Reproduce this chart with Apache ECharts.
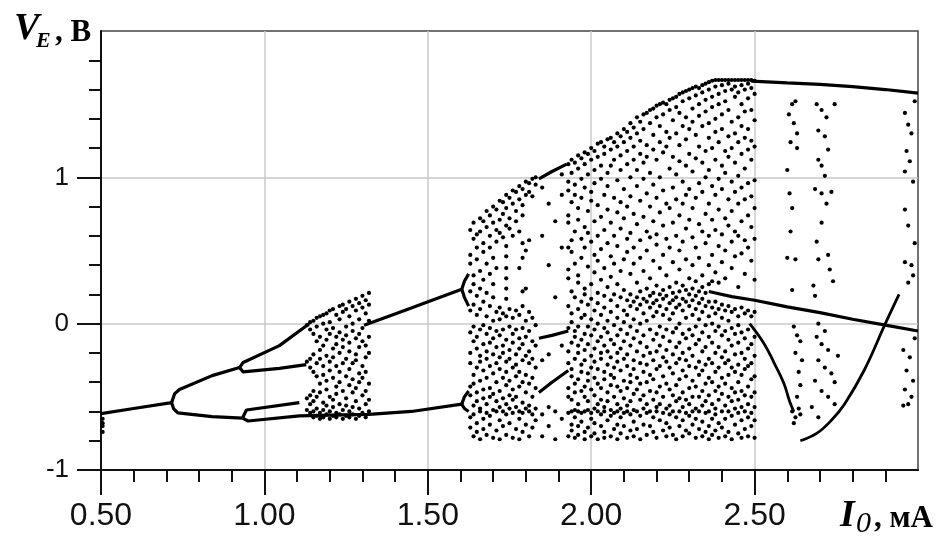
<!DOCTYPE html>
<html><head><meta charset="utf-8">
<script src="https://cdn.jsdelivr.net/npm/echarts@6/dist/echarts.min.js"></script>
<style>html,body{margin:0;padding:0;background:#fff}#c{width:948px;height:544px}</style>
</head><body><div id="c"></div>
<script>
// ---- tick labels ----
const xTicks = [0.5, 1.0, 1.5, 2.0, 2.5];
const yTicks = [-1, 0, 1];

// ---- stable branches ----
const branchP1 = [[0.5,-0.615],[0.6,-0.58],[0.716,-0.54]];
const branchP2up = [[0.716,-0.54],[0.725,-0.48],[0.74,-0.45],[0.84,-0.355],[0.924,-0.30]];
const branchP2low = [[0.716,-0.54],[0.722,-0.58],[0.735,-0.61],[0.84,-0.635],[0.933,-0.645]];
const branchP4a = [[0.924,-0.30],[0.935,-0.265],[1.046,-0.15],[1.137,0.0]];
const branchP4b = [[0.924,-0.30],[0.935,-0.33],[1.046,-0.305],[1.128,-0.28]];
const branchP4c = [[0.933,-0.645],[0.945,-0.59],[1.107,-0.54]];
const branchP4d = [[0.933,-0.645],[0.95,-0.665],[1.107,-0.63],[1.2,-0.625],[1.32,-0.62],[1.45,-0.6],[1.604,-0.55]];
const winUpper = [[1.305,-0.01],[1.41,0.075],[1.604,0.235]];
const winUpperArmA = [[1.604,0.235],[1.612,0.29],[1.625,0.34]];
const winUpperArmB = [[1.604,0.235],[1.612,0.18],[1.625,0.12]];
const winLowerArmA = [[1.604,-0.55],[1.612,-0.5],[1.625,-0.46]];
const winLowerArmB = [[1.604,-0.55],[1.612,-0.58],[1.625,-0.6]];
const p3Top = [[1.84,0.99],[1.88,1.04],[1.925,1.09]];
const p3Mid = [[1.84,-0.10],[1.88,-0.08],[1.93,-0.05]];
const p3Low = [[1.84,-0.47],[1.88,-0.4],[1.93,-0.32]];
const topRight = [[2.49,1.658],[2.6,1.645],[2.7,1.635],[2.8,1.62],[2.9,1.6],[3.0,1.575]];
const midRight = [[2.36,0.22],[2.43,0.185],[2.5,0.16],[2.6,0.115],[2.7,0.075],[2.8,0.03],[2.9,-0.01],[3.0,-0.05]];
const descCurve = [[2.485,0.0],[2.53,-0.14],[2.56,-0.27],[2.59,-0.41],[2.607,-0.53],[2.62,-0.6]];
const riseCurve = [[2.64,-0.8],[2.69,-0.75],[2.735,-0.66],[2.775,-0.55],[2.835,-0.32],[2.9,0.0],[2.942,0.2]];

// ---- chaotic points: [x, [y values]] columns ----
const transient = [[0.505,[-0.65,-0.68,-0.7,-0.74]]];
const chaosA = [
 [1.13,[-0.01,-0.26,-0.51,-0.59]],
 [1.14,[0.01,-0.04,-0.24,-0.3,-0.49,-0.55,-0.61]],
 [1.15,[0.02,-0.07,-0.21,-0.33,-0.46,-0.53,-0.6,-0.64]],
 [1.16,[0.04,-0.02,-0.12,-0.27,-0.36,-0.5,-0.58,-0.63]],
 [1.17,[0.05,-0.09,-0.18,-0.24,-0.41,-0.47,-0.61,-0.65]],
 [1.18,[0.06,0.0,-0.15,-0.29,-0.35,-0.54,-0.59,-0.64]],
 [1.19,[0.07,-0.04,-0.11,-0.22,-0.39,-0.45,-0.56,-0.62]],
 [1.20,[0.09,0.01,-0.07,-0.26,-0.32,-0.5,-0.6,-0.65]],
 [1.21,[0.1,-0.03,-0.17,-0.23,-0.37,-0.52,-0.57,-0.63]],
 [1.22,[0.06,-0.09,-0.14,-0.29,-0.43,-0.48,-0.61,-0.64]],
 [1.23,[0.12,0.03,-0.06,-0.2,-0.33,-0.4,-0.55,-0.62]],
 [1.24,[0.13,0.08,-0.11,-0.16,-0.27,-0.46,-0.59,-0.65]],
 [1.25,[0.1,-0.02,-0.08,-0.24,-0.36,-0.51,-0.56,-0.63]],
 [1.26,[0.15,0.05,-0.13,-0.19,-0.31,-0.42,-0.6,-0.64]],
 [1.27,[0.12,0.0,-0.05,-0.27,-0.38,-0.47,-0.57,-0.62]],
 [1.28,[0.17,0.09,-0.1,-0.21,-0.25,-0.44,-0.53,-0.65]],
 [1.29,[0.14,0.03,-0.07,-0.16,-0.34,-0.4,-0.58,-0.63]],
 [1.30,[0.19,0.11,-0.03,-0.12,-0.29,-0.37,-0.49,-0.61]],
 [1.31,[0.16,0.07,-0.15,-0.23,-0.33,-0.46,-0.55,-0.64]],
 [1.32,[0.21,0.13,0.02,-0.09,-0.2,-0.41,-0.52,-0.6]]
];
const chaosB = [
 [1.63,[0.64,0.47,0.41,0.22,0.09,-0.06,-0.2,-0.27,-0.43,-0.49,-0.64,-0.71]],
 [1.64,[0.69,0.58,0.33,0.27,0.13,-0.02,-0.12,-0.35,-0.41,-0.56,-0.62,-0.77]],
 [1.65,[0.61,0.52,0.44,0.19,0.06,-0.09,-0.17,-0.3,-0.47,-0.53,-0.68,-0.74]],
 [1.66,[0.72,0.63,0.36,0.24,0.1,-0.04,-0.22,-0.26,-0.39,-0.58,-0.6,-0.79]],
 [1.67,[0.7,0.55,0.49,0.3,0.15,-0.01,-0.14,-0.32,-0.45,-0.51,-0.65,-0.72]],
 [1.68,[0.77,0.66,0.41,0.21,0.05,-0.07,-0.19,-0.24,-0.37,-0.55,-0.61,-0.76]],
 [1.69,[0.74,0.6,0.52,0.34,0.12,-0.03,-0.13,-0.29,-0.44,-0.5,-0.63,-0.69]],
 [1.70,[0.8,0.69,0.45,0.27,0.18,0.02,-0.1,-0.21,-0.34,-0.48,-0.59,-0.78]],
 [1.71,[0.78,0.64,0.56,0.38,0.08,-0.05,-0.16,-0.27,-0.4,-0.53,-0.6,-0.73]],
 [1.72,[0.84,0.71,0.62,0.11,0.03,-0.08,-0.23,-0.31,-0.46,-0.57,-0.66,-0.79]],
 [1.73,[0.83,0.75,0.59,0.07,-0.04,-0.15,-0.2,-0.37,-0.51,-0.6,-0.7]],
 [1.74,[0.88,0.79,0.67,0.53,0.46,0.38,0.31,0.24,0.17,0.05,-0.11,-0.26,-0.33,-0.42,-0.55,-0.62,-0.76]],
 [1.75,[0.86,0.72,0.65,0.1,-0.02,-0.18,-0.24,-0.39,-0.49,-0.58,-0.68]],
 [1.76,[0.91,0.82,0.6,0.04,-0.07,-0.13,-0.3,-0.45,-0.52,-0.61,-0.78]],
 [1.77,[0.9,0.77,0.7,0.09,-0.04,-0.21,-0.28,-0.36,-0.5,-0.57,-0.72]],
 [1.78,[0.94,0.85,0.63,0.38,0.06,-0.1,-0.17,-0.33,-0.43,-0.6,-0.65,-0.79]],
 [1.79,[0.92,0.81,0.74,0.55,0.45,0.22,0.12,-0.03,-0.14,-0.25,-0.4,-0.54,-0.61,-0.74]],
 [1.80,[0.97,0.88,0.5,0.24,0.02,-0.09,-0.22,-0.35,-0.47,-0.58,-0.69]],
 [1.81,[0.96,0.9,0.57,0.08,-0.05,-0.19,-0.27,-0.41,-0.56,-0.6,-0.77]],
 [1.82,[0.99,0.87,0.04,-0.12,-0.24,-0.37,-0.5,-0.62,-0.71]],
 [1.83,[1.0,0.95,-0.01,-0.15,-0.3,-0.44,-0.58,-0.66]],
 [1.85,[0.93,0.6,-0.25,-0.62,-0.77]],
 [1.87,[0.82,0.4,-0.21,-0.57,-0.7]],
 [1.89,[0.7,0.18,-0.6,-0.79]],
 [1.91,[1.02,0.88,0.52,-0.15,-0.65]]
];
const chaosC = [
 [1.93,[1.09,0.97,0.91,0.74,0.69,0.52,0.37,0.31,0.12,-0.03,-0.19,-0.27,-0.44,-0.5,-0.61,-0.77]],
 [1.94,[1.12,1.03,0.83,0.57,0.49,0.22,0.07,0.01,-0.13,-0.31,-0.36,-0.52,-0.6,-0.69,-0.73]],
 [1.95,[1.1,0.95,0.88,0.63,0.41,0.18,-0.05,-0.09,-0.24,-0.41,-0.47,-0.59,-0.64,-0.78]],
 [1.96,[1.15,1.06,0.79,0.71,0.33,0.28,0.1,-0.02,-0.15,-0.2,-0.38,-0.55,-0.6,-0.7,-0.76]],
 [1.97,[1.13,0.99,0.86,0.58,0.45,0.15,0.04,-0.11,-0.28,-0.33,-0.46,-0.61,-0.67]],
 [1.98,[1.17,1.09,0.93,0.66,0.52,0.24,0.2,0.06,-0.07,-0.18,-0.25,-0.43,-0.5,-0.6,-0.74,-0.79]],
 [1.99,[1.16,1.02,0.77,0.62,0.39,0.13,-0.02,-0.14,-0.34,-0.39,-0.53,-0.59,-0.71]],
 [2.00,[1.2,1.12,0.9,0.84,0.56,0.27,0.17,0.03,-0.08,-0.22,-0.3,-0.45,-0.61,-0.65,-0.77]],
 [2.01,[1.18,1.05,0.96,0.7,0.47,0.35,0.09,-0.04,-0.17,-0.26,-0.37,-0.49,-0.58,-0.68,-0.75]],
 [2.02,[1.23,1.14,0.81,0.6,0.43,0.21,0.14,0.0,-0.12,-0.31,-0.41,-0.55,-0.6,-0.79]],
 [2.03,[1.24,1.08,0.99,0.73,0.51,0.3,0.06,-0.09,-0.2,-0.24,-0.44,-0.52,-0.62,-0.7]],
 [2.04,[1.21,1.16,0.88,0.64,0.38,0.19,0.11,-0.03,-0.15,-0.33,-0.38,-0.57,-0.6,-0.74,-0.78]],
 [2.05,[1.26,1.03,0.94,0.78,0.55,0.25,0.02,-0.06,-0.19,-0.28,-0.47,-0.53,-0.66]],
 [2.06,[1.27,1.19,1.08,0.69,0.46,0.32,0.16,0.08,-0.11,-0.23,-0.35,-0.42,-0.59,-0.63,-0.77]],
 [2.07,[1.24,1.12,0.86,0.6,0.41,0.2,-0.01,-0.14,-0.3,-0.37,-0.5,-0.61,-0.72]],
 [2.08,[1.3,1.21,0.98,0.76,0.53,0.27,0.12,0.04,-0.08,-0.2,-0.26,-0.43,-0.55,-0.6,-0.69,-0.79]],
 [2.09,[1.28,1.15,1.05,0.83,0.65,0.36,0.18,-0.04,-0.17,-0.32,-0.46,-0.58,-0.64,-0.75]],
 [2.10,[1.33,1.24,0.92,0.72,0.44,0.23,0.09,0.01,-0.12,-0.24,-0.39,-0.51,-0.61,-0.7]],
 [2.11,[1.31,1.18,1.09,0.8,0.58,0.49,0.16,0.06,-0.07,-0.21,-0.29,-0.44,-0.56,-0.6,-0.78]],
 [2.12,[1.37,1.27,1.0,0.87,0.62,0.34,0.2,0.12,-0.02,-0.15,-0.35,-0.4,-0.53,-0.62,-0.73]],
 [2.13,[1.34,1.21,1.12,0.75,0.52,0.41,0.15,0.03,-0.1,-0.25,-0.31,-0.48,-0.59,-0.67,-0.77]],
 [2.14,[1.41,1.3,1.05,0.94,0.68,0.28,0.18,0.1,-0.05,-0.19,-0.37,-0.45,-0.6,-0.72]],
 [2.15,[1.38,1.25,1.16,0.84,0.57,0.45,0.22,0.13,0.0,-0.13,-0.27,-0.41,-0.52,-0.63,-0.79]],
 [2.16,[1.43,1.33,1.1,0.99,0.73,0.36,0.17,0.07,-0.08,-0.22,-0.33,-0.49,-0.58,-0.69]],
 [2.17,[1.44,1.22,1.14,0.89,0.63,0.5,0.24,0.15,0.02,-0.16,-0.28,-0.4,-0.55,-0.61,-0.76]],
 [2.18,[1.46,1.37,1.03,0.8,0.59,0.31,0.19,0.11,-0.04,-0.2,-0.35,-0.46,-0.6,-0.7]],
 [2.19,[1.47,1.29,1.19,0.95,0.7,0.43,0.21,0.14,0.05,-0.11,-0.25,-0.38,-0.52,-0.64,-0.74]],
 [2.20,[1.49,1.41,1.12,0.86,0.61,0.54,0.26,0.16,0.08,-0.07,-0.19,-0.31,-0.47,-0.57,-0.6,-0.78]],
 [2.21,[1.5,1.35,1.24,1.0,0.76,0.38,0.2,0.12,-0.02,-0.15,-0.29,-0.43,-0.55,-0.66]],
 [2.22,[1.51,1.43,1.17,0.91,0.67,0.47,0.23,0.17,0.06,-0.09,-0.23,-0.36,-0.5,-0.61,-0.73]],
 [2.23,[1.5,1.31,1.21,0.82,0.58,0.33,0.19,0.1,-0.04,-0.18,-0.26,-0.41,-0.58,-0.68,-0.77]],
 [2.24,[1.53,1.46,1.27,1.06,0.79,0.52,0.25,0.14,0.03,-0.12,-0.3,-0.45,-0.56,-0.62,-0.71]],
 [2.25,[1.54,1.39,1.14,0.93,0.69,0.42,0.21,0.16,0.07,-0.06,-0.21,-0.34,-0.49,-0.6,-0.76]],
 [2.26,[1.55,1.48,1.3,1.02,0.85,0.6,0.28,0.18,0.11,-0.03,-0.16,-0.27,-0.42,-0.53,-0.64,-0.79]],
 [2.27,[1.57,1.44,1.22,1.11,0.74,0.5,0.37,0.22,0.13,0.0,-0.13,-0.24,-0.38,-0.51,-0.6,-0.7]],
 [2.28,[1.58,1.52,1.35,0.97,0.82,0.56,0.26,0.17,0.09,-0.07,-0.2,-0.32,-0.47,-0.57,-0.66,-0.77]],
 [2.29,[1.59,1.41,1.26,1.08,0.88,0.65,0.44,0.23,0.15,0.04,-0.1,-0.25,-0.36,-0.52,-0.61,-0.73]],
 [2.30,[1.6,1.54,1.33,1.16,0.92,0.71,0.31,0.2,0.12,-0.04,-0.17,-0.29,-0.44,-0.55,-0.63,-0.75]],
 [2.31,[1.61,1.47,1.38,1.04,0.79,0.59,0.4,0.24,0.16,0.06,-0.08,-0.22,-0.39,-0.5,-0.6,-0.69]],
 [2.32,[1.62,1.56,1.29,1.13,0.86,0.52,0.29,0.19,0.1,-0.02,-0.14,-0.3,-0.43,-0.58,-0.65,-0.78]],
 [2.33,[1.61,1.5,1.42,1.21,0.96,0.68,0.45,0.22,0.14,0.03,-0.11,-0.26,-0.35,-0.5,-0.6,-0.72]],
 [2.34,[1.63,1.58,1.35,1.1,0.9,0.63,0.33,0.25,0.17,0.08,-0.06,-0.19,-0.32,-0.46,-0.56,-0.67,-0.77]],
 [2.35,[1.64,1.53,1.45,1.18,1.0,0.75,0.55,0.21,0.12,-0.01,-0.16,-0.28,-0.41,-0.53,-0.61,-0.74]],
 [2.36,[1.65,1.6,1.37,1.27,1.05,0.82,0.6,0.4,0.27,0.15,0.05,-0.09,-0.24,-0.37,-0.49,-0.6,-0.7,-0.79]],
 [2.37,[1.66,1.55,1.48,1.2,0.94,0.71,0.47,0.29,0.11,0.0,-0.13,-0.27,-0.4,-0.55,-0.65,-0.76]],
 [2.38,[1.665,1.62,1.4,1.31,1.12,0.88,0.64,0.35,0.15,0.07,-0.05,-0.2,-0.33,-0.46,-0.58,-0.62,-0.73]],
 [2.39,[1.665,1.57,1.5,1.24,0.99,0.78,0.53,0.28,0.1,-0.02,-0.16,-0.3,-0.43,-0.52,-0.68,-0.78]],
 [2.40,[1.665,1.63,1.43,1.33,1.08,0.92,0.61,0.42,0.13,0.04,-0.08,-0.23,-0.37,-0.48,-0.6,-0.71]],
 [2.41,[1.665,1.59,1.52,1.18,1.03,0.72,0.5,0.31,0.09,-0.05,-0.19,-0.27,-0.41,-0.56,-0.65,-0.77]],
 [2.42,[1.665,1.64,1.46,1.28,1.14,0.85,0.67,0.12,0.02,-0.11,-0.25,-0.35,-0.5,-0.6,-0.74]],
 [2.43,[1.665,1.6,1.38,1.2,0.97,0.77,0.56,0.38,0.08,-0.03,-0.15,-0.3,-0.44,-0.53,-0.63,-0.79]],
 [2.44,[1.665,1.62,1.55,1.3,1.1,0.9,0.63,0.46,0.1,-0.07,-0.21,-0.33,-0.47,-0.58,-0.69]],
 [2.45,[1.665,1.58,1.41,1.24,1.01,0.82,0.6,0.25,0.05,-0.01,-0.13,-0.28,-0.4,-0.52,-0.61,-0.75]],
 [2.46,[1.665,1.63,1.5,1.35,1.16,0.93,0.7,0.48,0.11,-0.06,-0.2,-0.35,-0.46,-0.57,-0.66,-0.78]],
 [2.47,[1.665,1.6,1.45,1.27,1.06,0.85,0.57,0.34,0.07,-0.1,-0.24,-0.31,-0.49,-0.6,-0.72]],
 [2.48,[1.665,1.64,1.54,1.33,1.19,0.96,0.74,0.52,0.09,-0.04,-0.17,-0.29,-0.43,-0.55,-0.64,-0.77]],
 [2.49,[1.665,1.61,1.46,1.25,1.12,0.87,0.66,0.43,0.05,-0.14,-0.27,-0.38,-0.5,-0.61,-0.7]],
 [2.50,[1.66,1.57,1.39,1.21,0.98,0.79,0.58,0.3,0.08,-0.09,-0.22,-0.36,-0.47,-0.57,-0.66,-0.78]]
];
// sparse points right of 2.5, as [x, y] pairs
const sparseE = [
 [2.615,1.5],[2.625,1.52],[2.605,1.43],[2.62,1.37],[2.61,1.24],[2.63,1.2],[2.607,0.89],[2.615,0.79],[2.61,0.63],[2.6,0.45],[2.625,0.44],[2.615,0.23],[2.63,1.3],[2.6,1.05],
 [2.62,-0.02],[2.63,-0.08],[2.64,-0.12],[2.625,-0.2],[2.645,-0.25],[2.635,-0.33],[2.64,-0.42],[2.63,-0.5],[2.615,-0.6],[2.625,-0.64],[2.635,-0.58],[2.62,-0.68],[2.64,-0.62],
 [2.69,1.5],[2.705,1.46],[2.72,1.41],[2.745,1.5],[2.695,1.32],[2.715,1.28],[2.725,1.19],[2.695,1.12],[2.705,1.08],[2.715,1.01],[2.685,0.92],[2.705,0.89],[2.735,0.9],[2.72,0.82],[2.705,0.69],[2.69,0.56],[2.725,0.47],[2.695,0.44],[2.73,0.37],[2.74,0.29],[2.68,0.26],[2.685,0.19],
 [2.695,0.0],[2.715,-0.05],[2.69,-0.09],[2.705,-0.14],[2.725,-0.18],[2.695,-0.25],[2.715,-0.3],[2.735,-0.34],[2.685,-0.39],[2.705,-0.46],[2.725,-0.5],[2.745,-0.55],[2.675,-0.57],[2.695,-0.64],[2.745,-0.4],[2.755,-0.22],
 [2.96,1.44],[2.97,1.36],[2.98,1.3],[2.965,1.18],[2.975,1.11],[2.96,1.04],[2.985,0.97],[2.96,0.78],[2.97,0.67],[2.96,0.42],[2.98,0.4],[2.985,0.33],[2.97,0.28],
 [2.955,-0.18],[2.975,-0.23],[2.965,-0.32],[2.985,-0.39],[2.96,-0.45],[2.98,-0.5],[2.955,-0.56],[2.97,-0.55],[2.99,1.52],[2.99,0.55],[2.99,-0.1]
];

function expand(cols){ const out=[]; cols.forEach(c=>c[1].forEach(y=>out.push([c[0],y]))); return out; }
const scatterData = expand(transient).concat(expand(chaosA), expand(chaosB), expand(chaosC), sparseE);

const lines = [branchP1,branchP2up,branchP2low,branchP4a,branchP4b,branchP4c,branchP4d,winUpper,winUpperArmA,winUpperArmB,winLowerArmA,winLowerArmB,p3Top,p3Mid,p3Low,topRight,midRight];
const curves = [descCurve, riseCurve];

const series = [];
lines.forEach(d=>series.push({type:'line',data:d,showSymbol:false,symbol:'none',lineStyle:{color:'#000',width:3.2},silent:true,animation:false}));
curves.forEach(d=>series.push({type:'line',data:d,showSymbol:false,symbol:'none',smooth:0.4,lineStyle:{color:'#000',width:2.8},silent:true,animation:false}));
series.push({type:'scatter',data:scatterData,symbol:'circle',symbolSize:4.2,itemStyle:{color:'#000',opacity:1},silent:true,animation:false,large:false});

const tickStyle = {color:'#111', width:2};
const chart = echarts.init(document.getElementById('c'), null, {renderer:'canvas'});
chart.setOption({
  backgroundColor:'#fff',
  animation:false,
  grid:{left:101, top:31, right:30, bottom:74, show:true, borderColor:'#444', borderWidth:1.5},
  xAxis:{type:'value', min:0.5, max:3.0, interval:0.5,
    axisLine:{show:true, onZero:false, lineStyle:tickStyle},
    axisTick:{show:true, inside:false, length:25, lineStyle:tickStyle, customValues:xTicks},
    minorTick:{show:true, splitNumber:5, length:12, lineStyle:tickStyle},
    axisLabel:{customValues:xTicks, formatter:v=>Number(v).toFixed(2), fontSize:32, fontFamily:'Liberation Sans, Arial', color:'#111', margin:30},
    splitLine:{show:true, lineStyle:{color:'#c8c8c8', width:1.5}}},
  yAxis:{type:'value', min:-1, max:2, interval:1,
    axisLine:{show:true, onZero:false, lineStyle:tickStyle},
    axisTick:{show:true, inside:false, length:24, lineStyle:tickStyle, customValues:yTicks},
    minorTick:{show:true, splitNumber:5, length:12, lineStyle:tickStyle},
    axisLabel:{customValues:yTicks, formatter:v=>String(v), fontSize:26, fontFamily:'Liberation Sans, Arial', color:'#111', margin:32},
    splitLine:{show:true, lineStyle:{color:'#c8c8c8', width:1.5}}},
  graphic:[
    {type:'text', x:14, y:48, style:{text:'V', font:'italic bold 38px "Liberation Serif"', fill:'#000', textAlign:'left', textVerticalAlign:'bottom'}},
    {type:'text', x:36, y:52, style:{text:'E', font:'italic bold 22px "Liberation Serif"', fill:'#000', textAlign:'left', textVerticalAlign:'bottom'}},
    {type:'text', x:55, y:48, style:{text:', B', font:'bold 31px "Liberation Serif"', fill:'#000', textAlign:'left', textVerticalAlign:'bottom'}},
    {type:'text', x:840, y:535, style:{text:'I', font:'italic bold 38px "Liberation Serif"', fill:'#000', textAlign:'left', textVerticalAlign:'bottom'}},
    {type:'text', x:856, y:539, style:{text:'0', font:'italic 30px "Liberation Serif"', fill:'#000', textAlign:'left', textVerticalAlign:'bottom'}},
    {type:'text', x:874, y:534, style:{text:', мА', font:'bold 31px "Liberation Serif"', fill:'#000', textAlign:'left', textVerticalAlign:'bottom'}}
  ],
  series: series
});
</script></body></html>
